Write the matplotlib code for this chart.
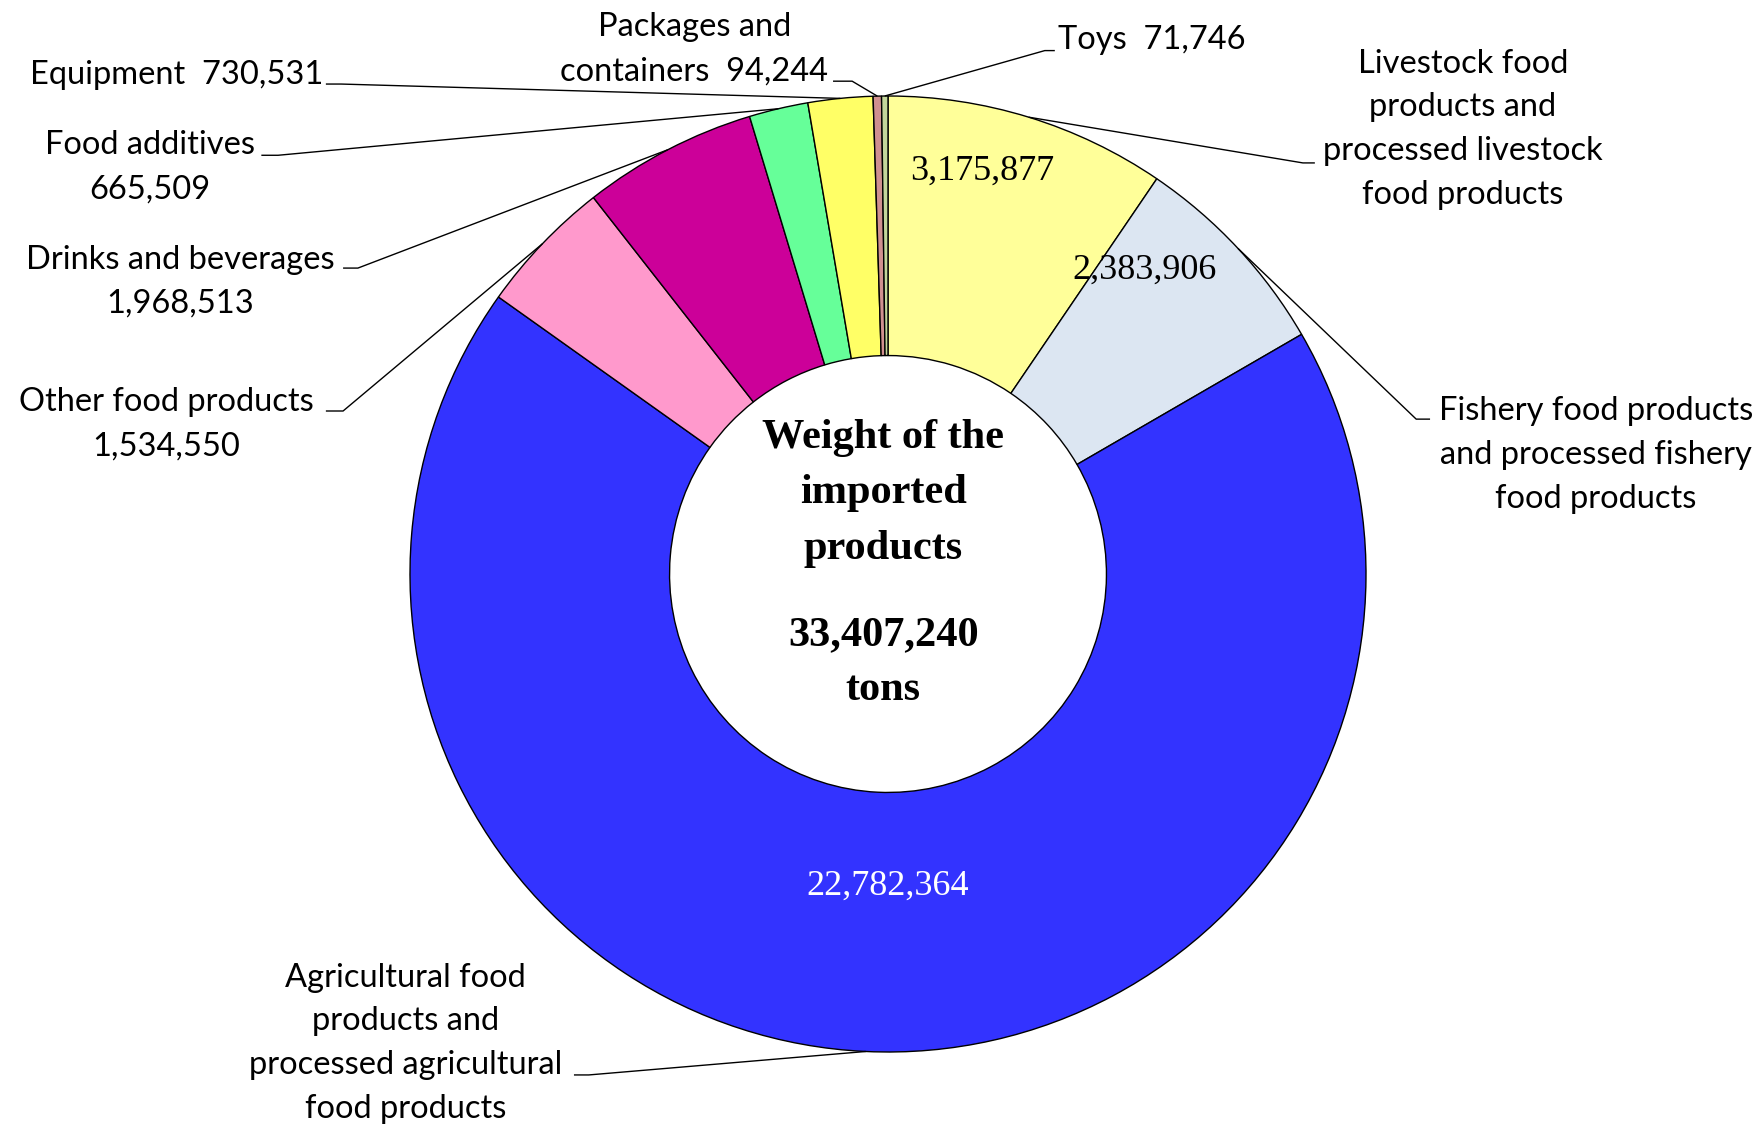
import numpy as np
import matplotlib
matplotlib.use("Agg")
import matplotlib.pyplot as plt

# ---- data (clockwise from 12 o'clock) ----
categories = [
    "Livestock food\nproducts and\nprocessed livestock\nfood products",
    "Fishery food products\nand processed fishery\nfood products",
    "Agricultural food\nproducts and\nprocessed agricultural\nfood products",
    "Other food products",
    "Drinks and beverages",
    "Food additives",
    "Equipment",
    "Packages and\ncontainers",
    "Toys",
]
values = [3175877, 2383906, 22782364, 1534550, 1968513, 665509, 730531, 94244, 71746]
colors = ["#FFFF99", "#DCE6F2", "#3333FF", "#FF99CC", "#CC0099",
          "#66FF99", "#FFFF66", "#D09090", "#C3D69B"]
total_label = "Weight of the\nimported\nproducts"
total_unit = "tons"

W, H = 1765, 1130
cx, cy, R = 888, 574, 478  # pixel layout of the donut
fig = plt.figure(figsize=(W / 100, H / 100), dpi=100)
ax = fig.add_axes([0, 0, 1, 1])

inner = 0.457
wedges, _ = ax.pie(values, colors=colors, startangle=90, counterclock=False,
                   radius=1.0,
                   wedgeprops=dict(width=1 - inner, edgecolor="black", linewidth=1.0))
ax.set_xlim(-cx / R, (W - cx) / R)
ax.set_ylim(-(H - cy) / R, cy / R)
ax.set_aspect("equal")
ax.axis("off")

lab_font = dict(family=["Lato", "DejaVu Sans"], fontsize=23.5, color="black")

def fmt(v):
    return f"{v:,}"

# label layout: text position, alignment, text-side end of leader, elbow
layout = {
    0: dict(xy=(1.203, 0.930), ha="center", text=categories[0],
            p1=(0.893, 0.860), p2=(0.868, 0.860)),
    1: dict(xy=(1.481, 0.249), ha="center", text=categories[1],
            p1=(1.134, 0.324), p2=(1.105, 0.324)),
    2: dict(xy=(-1.010, -0.982), ha="center", text=categories[2],
            p1=(-0.657, -1.048), p2=(-0.626, -1.048)),
    3: dict(xy=(-1.509, 0.313), ha="center", text=categories[3] + "\n" + fmt(values[3]),
            p1=(-1.176, 0.341), p2=(-1.140, 0.341)),
    4: dict(xy=(-1.481, 0.612), ha="center", text=categories[4] + "\n" + fmt(values[4]),
            p1=(-1.140, 0.640), p2=(-1.109, 0.640)),
    5: dict(xy=(-1.544, 0.851), ha="center", text=categories[5] + "\n" + fmt(values[5]),
            p1=(-1.311, 0.876), p2=(-1.276, 0.876)),
    6: dict(xy=(-1.182, 1.044), ha="right", text=categories[6] + "  " + fmt(values[6]),
            p1=(-1.176, 1.025), p2=(-1.144, 1.025)),
    7: dict(xy=(-0.405, 1.098), ha="center", text=categories[7] + "  " + fmt(values[7]),
            p1=(-0.115, 1.031), p2=(-0.075, 1.031)),
    8: dict(xy=(0.356, 1.118), ha="left", text=categories[8] + "  " + fmt(values[8]),
            p1=(0.349, 1.095), p2=(0.328, 1.095)),
}

for i, w in enumerate(wedges):
    mid = np.deg2rad((w.theta1 + w.theta2) / 2)
    ax_, ay_ = np.cos(mid), np.sin(mid)
    L = layout[i]
    ax.text(L["xy"][0], L["xy"][1], L["text"], ha=L["ha"], va="center",
            linespacing=1.58, **lab_font)
    ax.plot([L["p1"][0], L["p2"][0], ax_], [L["p1"][1], L["p2"][1], ay_],
            color="black", lw=1.0, solid_capstyle="butt", zorder=3)

# values inside the biggest slices
serif = ["Liberation Serif", "DejaVu Serif"]
ax.text(0.198, 0.843, fmt(values[0]), ha="center", va="center", family=serif, fontsize=26)
ax.text(0.537, 0.636, fmt(values[1]), ha="center", va="center", family=serif, fontsize=26)
ax.text(0.0, -0.653, fmt(values[2]), ha="center", va="center", family=serif, fontsize=26,
        color="white")

# centre text
ax.text(-0.01, 0.169, total_label, ha="center", va="center", family=serif,
        fontsize=30.5, fontweight="bold", linespacing=1.6)
ax.text(-0.01, -0.185, fmt(sum(values)) + "\n" + total_unit, ha="center", va="center",
        family=serif, fontsize=30.5, fontweight="bold", linespacing=1.6)

fig.savefig("out.png", dpi=100)
